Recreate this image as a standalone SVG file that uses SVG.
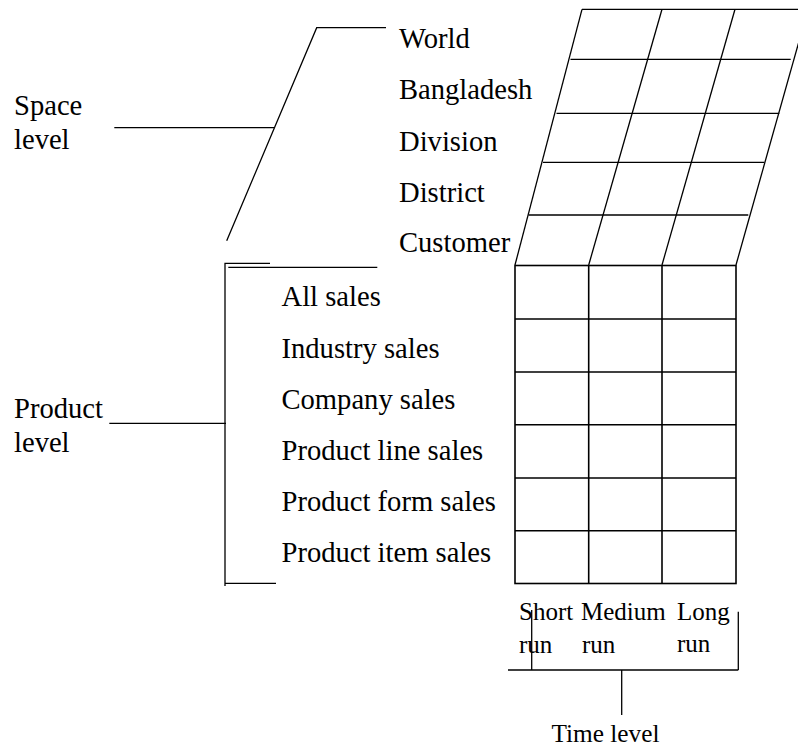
<svg xmlns="http://www.w3.org/2000/svg" width="798" height="748" viewBox="0 0 798 748">
<style>
text{font-family:"Liberation Serif","Times New Roman",serif;font-size:28.6px;fill:#000}
.sm{font-size:25px}
.ln{stroke:#000;stroke-width:1.3;fill:none}
.gr{stroke:#000;stroke-width:1.6;fill:none}
</style>
<rect width="798" height="748" fill="#fff"/>
<g id="space-level"><text x="14" y="115">Space</text><text x="14" y="149">level</text></g>
<g id="product-level"><text x="14" y="417.5">Product</text><text x="14" y="451.5">level</text></g>
<g id="space-items">
<text x="399" y="47.5">World</text>
<text x="399" y="99">Bangladesh</text>
<text x="399" y="150.5">Division</text>
<text x="399" y="201.5">District</text>
<text x="399" y="252">Customer</text>
</g>
<g id="product-items">
<text x="281.5" y="306">All sales</text>
<text x="281.5" y="357.5">Industry sales</text>
<text x="281.5" y="409">Company sales</text>
<text x="281.5" y="460">Product line sales</text>
<text x="281.5" y="511">Product form sales</text>
<text x="281.5" y="562">Product item sales</text>
</g>
<g id="time-items">
<text class="sm" x="519" y="620">Short</text>
<text class="sm" x="581" y="620">Medium</text>
<text class="sm" x="677" y="620">Long</text>
<text class="sm" x="519" y="653">run</text>
<text class="sm" x="582" y="653">run</text>
<text class="sm" x="677" y="652">run</text>
</g>
<g id="time-level"><text class="sm" x="551.5" y="742" textLength="108" lengthAdjust="spacingAndGlyphs">Time level</text></g>
<g id="space-grid" class="ln">
<line x1="582" y1="9.3" x2="515" y2="265"/>
<line x1="662" y1="9.3" x2="588.7" y2="265"/>
<line x1="735" y1="9.3" x2="662" y2="265"/>
<line x1="808" y1="9.3" x2="736" y2="265"/>
<line x1="582" y1="9.3" x2="798" y2="9.3"/>
<line x1="570.5" y1="59.3" x2="790.7" y2="59.3"/>
<line x1="556.5" y1="113.3" x2="779.3" y2="113.3"/>
<line x1="543" y1="162.3" x2="764.3" y2="162.3"/>
<line x1="528.5" y1="215" x2="748.3" y2="215"/>
</g>
<g id="product-time-grid" class="gr">
<rect x="515" y="265.5" width="221" height="318"/>
<line x1="588.7" y1="265.5" x2="588.7" y2="583.5"/>
<line x1="662" y1="265.5" x2="662" y2="583.5"/>
<line x1="515" y1="319" x2="736" y2="319"/>
<line x1="515" y1="372" x2="736" y2="372"/>
<line x1="515" y1="424.7" x2="736" y2="424.7"/>
<line x1="515" y1="478" x2="736" y2="478"/>
<line x1="515" y1="530.7" x2="736" y2="530.7"/>
</g>
<g id="connectors" class="ln">
<line x1="114.3" y1="127.7" x2="274" y2="127.7"/>
<polyline points="226.7,240.7 316.7,27.7 386,27.7"/>
<polyline points="270,263.3 225,263.3 225,586"/>
<line x1="228.3" y1="267.3" x2="377.3" y2="267.3"/>
<line x1="225" y1="583.3" x2="276" y2="583.3"/>
<line x1="109.3" y1="423.3" x2="226" y2="423.3"/>
<line x1="508" y1="670" x2="738.3" y2="670"/>
<line x1="531.7" y1="610" x2="531.7" y2="670"/>
<line x1="738.3" y1="611.7" x2="738.3" y2="670"/>
<line x1="621.7" y1="670" x2="621.7" y2="715"/>
</g>
</svg>
